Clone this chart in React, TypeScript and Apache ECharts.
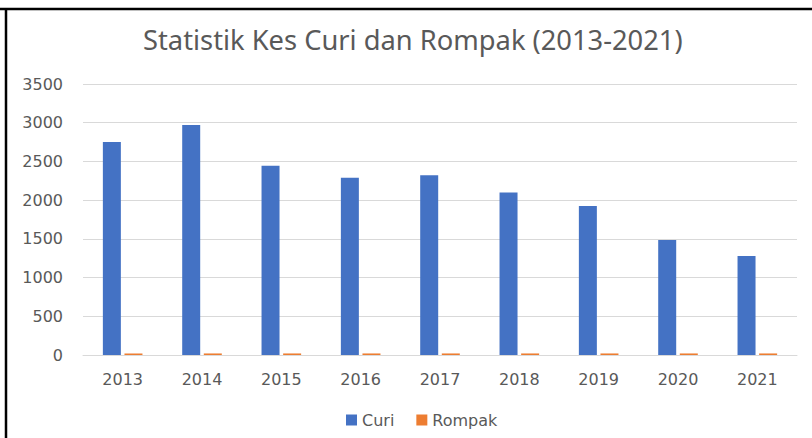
import React, { useEffect, useRef } from "react";
import * as echarts from "echarts";

const categories = ["2013", "2014", "2015", "2016", "2017", "2018", "2019", "2020", "2021"];
const curi = [2750, 2970, 2445, 2290, 2320, 2100, 1925, 1485, 1280];
const rompak = [20, 20, 20, 20, 20, 20, 20, 20, 20];
const titleText = "Statistik Kes Curi dan Rompak (2013-2021)";

export default function App() {
  const ref = useRef<HTMLDivElement>(null);
  useEffect(() => {
    if (!ref.current) return;
    const chart = echarts.init(ref.current, null, { renderer: "svg" });
    const labelFont = { fontFamily: "DejaVu Sans", fontSize: 16, color: "#595959" };
    chart.setOption({
      animation: false,
      backgroundColor: "#ffffff",
      title: {
        text: titleText,
        left: 138,
        top: 21,
        textStyle: { fontFamily: "Noto Sans", fontSize: 27.3, fontWeight: "normal", color: "#595959" },
      },
      legend: {
        bottom: 5,
        left: 341,
        itemWidth: 11,
        itemHeight: 11,
        itemGap: 22,
        icon: "rect",
        textStyle: labelFont,
        data: ["Curi", "Rompak"],
      },
      grid: { left: 83, right: 15, top: 84, bottom: 83, containLabel: false },
      xAxis: {
        type: "category",
        data: categories,
        axisLine: { lineStyle: { color: "#d9d9d9", width: 1 } },
        axisTick: { show: false },
        axisLabel: { ...labelFont, margin: 16 },
      },
      yAxis: {
        type: "value",
        min: 0,
        max: 3500,
        interval: 500,
        axisLine: { show: false },
        axisTick: { show: false },
        splitLine: { lineStyle: { color: "#d9d9d9", width: 1 } },
        axisLabel: { ...labelFont, margin: 20, formatter: (v: number) => String(v) },
      },
      series: [
        {
          name: "Curi",
          type: "bar",
          data: curi,
          barWidth: 18,
          barGap: "20%",
          itemStyle: { color: "#4472C4" },
        },
        {
          name: "Rompak",
          type: "bar",
          data: rompak,
          barWidth: 18,
          itemStyle: { color: "#ED7D31" },
        },
      ],
      graphic: [
        { type: "line", shape: { x1: 0, y1: 9, x2: 812, y2: 9 }, style: { stroke: "#000", lineWidth: 2.5 } },
        { type: "line", shape: { x1: 6, y1: 8, x2: 6, y2: 438 }, style: { stroke: "#000", lineWidth: 2.5 } },
      ],
    });
    return () => chart.dispose();
  }, []);
  return <div ref={ref} style={{ position: "absolute", left: 0, top: 0, width: 812, height: 438 }} />;
}
